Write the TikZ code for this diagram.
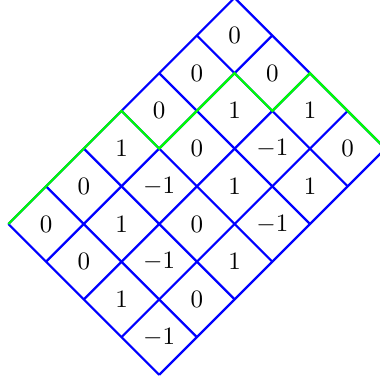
\documentclass[tikz,border=0pt]{standalone}
\usepackage{graphicx}
\tikzset{
  gridline/.style={draw=blue,line width=2.2pt},
  pathline/.style={draw=green,line width=2.2pt},
  lab/.style={inner sep=0pt}
}
\newcommand{\biglab}[1]{\scalebox{2.5}{$#1$}}
\begin{document}
\begin{tikzpicture}[x=1pt,y=-1pt]
\useasboundingbox (0,0) rectangle (380,383);
\clip (0,0) rectangle (380,383);
\begin{scope}[shift={(234.6pt,2.2pt)},x={(-37.7pt,-37.7pt)},y={(37.7pt,-37.7pt)}]
  \foreach \a in {0,...,6} \draw[gridline] (\a,0) -- (\a,4);
  \foreach \b in {0,...,4} \draw[gridline] (0,\b) -- (6,\b);
  \draw[pathline] (6,0) -- (3,0) -- (3,1) -- (1,1) -- (1,2) -- (0,2) -- (0,4);
  \foreach \row [count=\i from 0] in {{0,0,1,0},{0,1,-1,1},{0,0,1,-1},{1,-1,0,1},{0,1,-1,0},{0,0,1,-1}} {
    \foreach \v [count=\j from 0] in \row {
      \node[lab] (c\i\j) at (\i+0.5,\j+0.5) {\biglab{\v}};
    }
  }
\end{scope}
\end{tikzpicture}
\end{document}
